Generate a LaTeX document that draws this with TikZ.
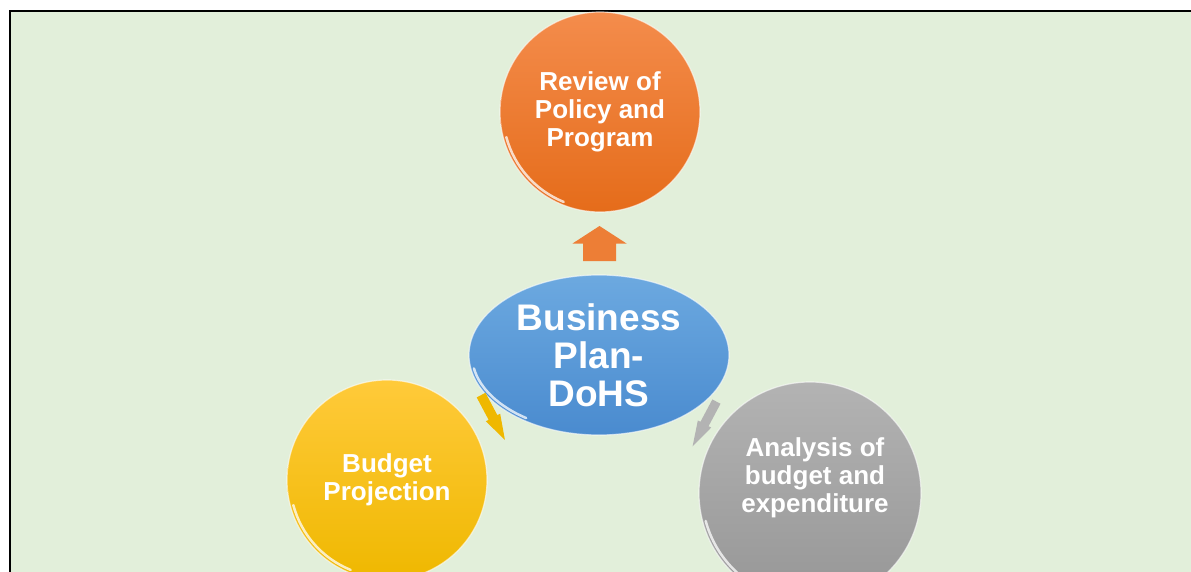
\documentclass[tikz,border=0pt]{standalone}
\usepackage{fontspec}
\setmainfont{Liberation Sans}
\usetikzlibrary{shapes.geometric,calc}

\definecolor{bggreen}{HTML}{E2EFDA}
\definecolor{orangetop}{HTML}{F48C4C}
\definecolor{orangebot}{HTML}{E56C1A}
\definecolor{goldtop}{HTML}{FFCA3A}
\definecolor{goldbot}{HTML}{EFB800}
\definecolor{greytop}{HTML}{B3B3B3}
\definecolor{greybot}{HTML}{969696}
\definecolor{bluetop}{HTML}{6CA9E0}
\definecolor{bluebot}{HTML}{4A8BCF}

\tikzset{
  bubble/.style={circle, inner sep=0pt, draw=white, draw opacity=0.6, line width=1.2pt,
    text=white, align=center, font=\bfseries\fontsize{26}{28}\selectfont},
  hub/.style={ellipse, inner sep=0pt, draw=white, draw opacity=0.6, line width=1.2pt,
    text=white, align=center, font=\bfseries\fontsize{37}{38}\selectfont},
  gloss/.style={white, line width=2.5pt, line cap=round, opacity=0.75},
  blockarrow/.pic={
    \fill (-17.5,-16.5) -- (0,-16.5) -- (0,-27) -- (17.5,0) -- (0,27) -- (0,16.5) -- (-17.5,16.5) -- cycle;
  }
}

\begin{document}
\begin{tikzpicture}[x=1pt,y=-1pt]
 \path[use as bounding box, clip] (0,0) rectangle (1191,572);
 \fill[white] (0,0) rectangle (1191,572);
 \draw[fill=bggreen, line width=2pt] (9.5,11.5) rectangle (1220,620);

 % centre and the three outer circles
 \node[hub, minimum width=260pt, minimum height=160pt, top color=bluetop, bottom color=bluebot]
   (plan) at (599,355) {Business\\Plan-\\DoHS};
 \node[bubble, minimum size=200pt, top color=orangetop, bottom color=orangebot]
   (review) at (600,112) {Review of\\Policy and\\Program};
 \node[bubble, minimum size=200pt, top color=goldtop, bottom color=goldbot]
   (budget) at (387,480) {Budget\\Projection};
 \node[bubble, minimum size=222pt, top color=greytop, bottom color=greybot,
   label={[text=white, align=center, font=\bfseries\fontsize{26}{28}\selectfont, xshift=5pt, yshift=15pt]center:Analysis of\\budget and\\expenditure}]
   (analysis) at (810,493) {};

 % glossy rims
 \draw[gloss] ($(review)+(165:97)$) arc[start angle=165, end angle=112, radius=97];
 \draw[gloss] ($(budget)+(165:97)$) arc[start angle=165, end angle=112, radius=97];
 \draw[gloss] ($(analysis)+(165:108)$) arc[start angle=165, end angle=112, radius=108];
 \draw[gloss] ($(plan)+(170:127 and 77)$) arc[start angle=170, end angle=125, x radius=127, y radius=77];

 % arrows
 \pic[color=orangetop!55!orangebot, rotate=90] at ($(plan.north)!0.5!(review.south)$) {blockarrow};
 \pic[color=goldbot, rotate=-62, xscale=1.45, yscale=0.3] at ($(budget)!0.5!(plan)$) {blockarrow};
 \pic[color=greytop, rotate=-118, xscale=1.45, yscale=0.28] at ($(analysis)!0.5!(plan)$) {blockarrow};
\end{tikzpicture}
\end{document}
